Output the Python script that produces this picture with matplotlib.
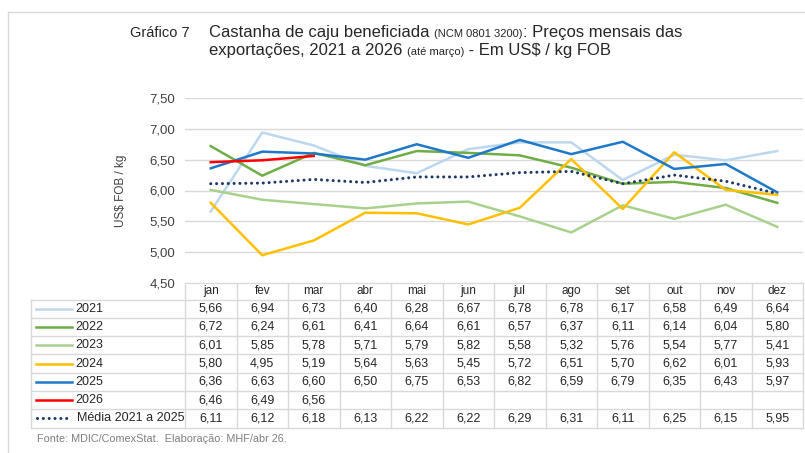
import matplotlib
matplotlib.use("Agg")
import matplotlib.pyplot as plt
from matplotlib.transforms import blended_transform_factory

plt.rcParams['font.family'] = ['Liberation Sans', 'DejaVu Sans']

# data
meses = ['jan', 'fev', 'mar', 'abr', 'mai', 'jun', 'jul', 'ago', 'set', 'out', 'nov', 'dez']
y2021 = [5.66, 6.94, 6.73, 6.40, 6.28, 6.67, 6.78, 6.78, 6.17, 6.58, 6.49, 6.64]
y2022 = [6.72, 6.24, 6.61, 6.41, 6.64, 6.61, 6.57, 6.37, 6.11, 6.14, 6.04, 5.80]
y2023 = [6.01, 5.85, 5.78, 5.71, 5.79, 5.82, 5.58, 5.32, 5.76, 5.54, 5.77, 5.41]
y2024 = [5.80, 4.95, 5.19, 5.64, 5.63, 5.45, 5.72, 6.51, 5.70, 6.62, 6.01, 5.93]
y2025 = [6.36, 6.63, 6.60, 6.50, 6.75, 6.53, 6.82, 6.59, 6.79, 6.35, 6.43, 5.97]
y2026 = [6.46, 6.49, 6.56]
media = [6.11, 6.12, 6.18, 6.13, 6.22, 6.22, 6.29, 6.31, 6.11, 6.25, 6.15, 5.95]

series = [
    ('2021', y2021, '#bdd7ee', '-'),
    ('2022', y2022, '#70ad47', '-'),
    ('2023', y2023, '#a9d18e', '-'),
    ('2024', y2024, '#ffc000', '-'),
    ('2025', y2025, '#1f78c8', '-'),
    ('2026', y2026, '#ff0000', '-'),
    ('Média 2021 a 2025', media, '#1f3864', ':'),
]

W, H = 805, 453
fig = plt.figure(figsize=(W / 100, H / 100), dpi=100)

# overlay in pixel coordinates
ov = fig.add_axes([0, 0, 1, 1])
ov.set_xlim(0, W)
ov.set_ylim(H, 0)
ov.axis('off')

# chart area
x0, x1, ytop, ybot = 185, 803, 98, 283
ax = fig.add_axes([x0 / W, 1 - ybot / H, (x1 - x0) / W, (ybot - ytop) / H])
ax.set_xlim(-0.5, 11.5)
ax.set_ylim(4.5, 7.5)
ax.set_yticks([4.5, 5.0, 5.5, 6.0, 6.5, 7.0, 7.5])
ax.set_yticklabels([f'{v:.2f}'.replace('.', ',') for v in ax.get_yticks()],
                   fontsize=9.5, color='#404040')
ax.set_xticks([])
ax.tick_params(axis='y', length=0, pad=7)
for s in ax.spines.values():
    s.set_visible(False)
ax.grid(axis='y', color='#d9d9d9', lw=1)
ax.set_axisbelow(True)
ax.set_ylabel('US$ FOB / kg', fontsize=8.5, color='#404040', labelpad=16)

dotted = (0, (0.01, 1.9))
for name, vals, col, ls in series:
    if ls == ':':
        ax.plot(range(len(vals)), vals, color=col, lw=2.2, linestyle=dotted,
                dash_capstyle='round', zorder=3)
    else:
        ax.plot(range(len(vals)), vals, color=col, lw=1.8, zorder=3)

# table below the chart
tr = blended_transform_factory(ax.transData, ov.transData)
grid_c = '#d9d9d9'
hdr_h = 16.5
row_h = 18.3
hdr_top = ybot
rows_top = hdr_top + hdr_h
tab_bot = rows_top + row_h * len(series)

# header row
ov.plot([x0, x1], [hdr_top, hdr_top], color=grid_c, lw=1)
for i, m in enumerate(meses):
    ov.text(i, hdr_top + hdr_h / 2, m, transform=tr, ha='center', va='center',
            fontsize=8.5, color='#262626')
# vertical lines
for i in range(13):
    ov.plot([i - 0.5, i - 0.5], [hdr_top, tab_bot], color=grid_c, lw=1, transform=tr)
ov.plot([31, 31], [rows_top, tab_bot], color=grid_c, lw=1)
for r in range(len(series) + 1):
    yy = rows_top + r * row_h
    ov.plot([31, x1], [yy, yy], color=grid_c, lw=1)

for r, (name, vals, col, ls) in enumerate(series):
    yc = rows_top + r * row_h + row_h / 2
    if ls == ':':
        ov.plot([37, 70], [yc, yc], color=col, lw=2.2, linestyle=dotted,
                dash_capstyle='round')
        ov.text(77, yc, name, ha='left', va='center', fontsize=9, color='#262626')
    else:
        ov.plot([36, 72], [yc, yc], color=col, lw=1.8)
        ov.text(75, yc, name, ha='left', va='center', fontsize=9, color='#262626')
    for i, v in enumerate(vals):
        ov.text(i, yc, f'{v:.2f}'.replace('.', ','), transform=tr, ha='center',
                va='center', fontsize=9, color='#262626')

# source
ov.text(37, 439, 'Fonte: MDIC/ComexStat.  Elaboração: MHF/abr 26.', ha='left',
        va='center', fontsize=7.8, color='#7f7f7f')

# frame lines
ov.plot([8, W], [12, 12], color='#d9d9d9', lw=1)
ov.plot([8, 8], [12, H], color='#d9d9d9', lw=1)

# title built from pieces of different sizes
fig.canvas.draw()
rend = fig.canvas.get_renderer()
tc = '#262626'


def chain(x, y, parts):
    for txt, fs in parts:
        t = ov.text(x, y, txt, ha='left', va='baseline', fontsize=fs, color=tc)
        x += t.get_window_extent(renderer=rend).width
    return x


ov.text(130, 37, 'Gráfico 7', ha='left', va='baseline', fontsize=10.5, color=tc)
chain(209, 37, [('Castanha de caju beneficiada ', 12), ('(NCM 0801 3200)', 8),
                (': Preços mensais das', 12)])
chain(209, 55, [('exportações, 2021 a 2026 ', 12), ('(até março)', 8),
                (' - Em US$ / kg FOB', 12)])

fig.savefig('out.png', dpi=100)
